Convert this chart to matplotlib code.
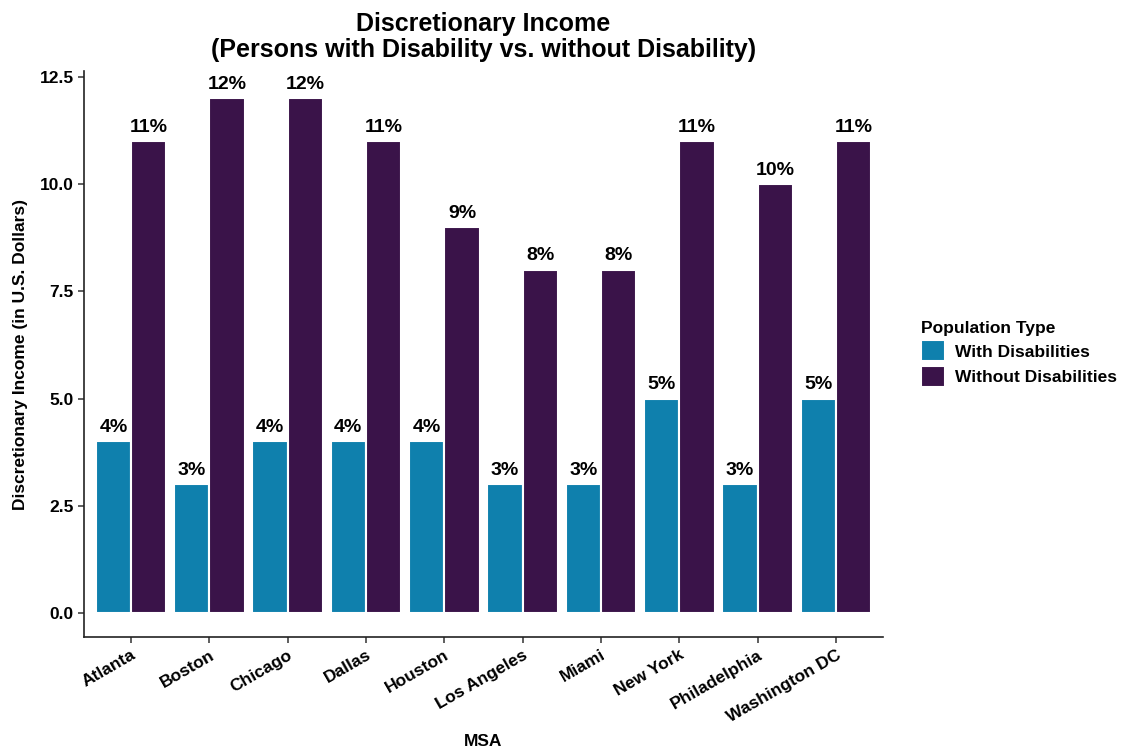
import numpy as np
from matplotlib import pyplot as plt

plt.rcParams['font.family'] = ['Liberation Sans', 'DejaVu Sans']

msa = ['Atlanta', 'Boston', 'Chicago', 'Dallas', 'Houston', 'Los Angeles',
       'Miami', 'New York', 'Philadelphia', 'Washington DC']
with_dis = [4, 3, 4, 4, 4, 3, 3, 5, 3, 5]
without_dis = [11, 12, 12, 11, 9, 8, 8, 11, 10, 11]

blue = '#0f80ad'
purple = '#3a1349'

fig = plt.figure(figsize=(11.22, 7.51), dpi=100)
ax = fig.add_axes([84 / 1122, 1 - 637 / 751, (883 - 84) / 1122, (637 - 71) / 751])

x = np.arange(1, len(msa) + 1)
w = 0.45
b1 = ax.bar(x - w / 2, with_dis, w, color=blue, edgecolor='white', linewidth=1.5,
            label='With Disabilities')
b2 = ax.bar(x + w / 2, without_dis, w, color=purple, edgecolor='white', linewidth=1.5,
            label='Without Disabilities')

# percent labels above bars
for bars in (b1, b2):
    for rect in bars:
        h = rect.get_height()
        ax.annotate(f'{h:g}%', (rect.get_x() + rect.get_width() / 2, h),
                    xytext=(0, 4), textcoords='offset points', ha='center', va='bottom',
                    fontsize=14, fontweight='bold')

ax.set_xlim(0.4, 10.6)
ax.set_ylim(-0.56, 12.64)
ax.set_yticks([0, 2.5, 5, 7.5, 10, 12.5])
ax.set_yticklabels(['0.0', '2.5', '5.0', '7.5', '10.0', '12.5'], fontsize=12.5, fontweight='bold')
ax.set_xticks(x)
ax.set_xticklabels(msa, rotation=30, ha='right', rotation_mode='anchor', fontsize=12.5,
                   fontweight='bold')
ax.tick_params(length=4, width=1.1, color='#333333')

for s in ['top', 'right']:
    ax.spines[s].set_visible(False)
for s in ['left', 'bottom']:
    ax.spines[s].set_linewidth(1.2)
    ax.spines[s].set_color('#222222')

fig.text(483 / 1122, 1 - 741 / 751, 'MSA', ha='center', va='center',
         fontsize=12.5, fontweight='bold')
ax.set_ylabel('Discretionary Income (in U.S. Dollars)', fontsize=12.5, fontweight='bold',
              labelpad=8)
ax.set_title('Discretionary Income\n(Persons with Disability vs. without Disability)',
             fontsize=18, fontweight='bold', pad=10, linespacing=1.1)

leg = ax.legend(title='Population Type', loc='center left', bbox_to_anchor=(1.047, 0.5),
                frameon=False, fontsize=12.5, title_fontproperties={'weight': 'bold', 'size': 12.5},
                borderpad=0, borderaxespad=0,
                handlelength=1.4, handleheight=1.5, handletextpad=0.6, labelspacing=0.25)
leg._legend_box.align = 'left'
for t in leg.get_texts():
    t.set_fontweight('bold')

fig.savefig('out.png', dpi=100)
